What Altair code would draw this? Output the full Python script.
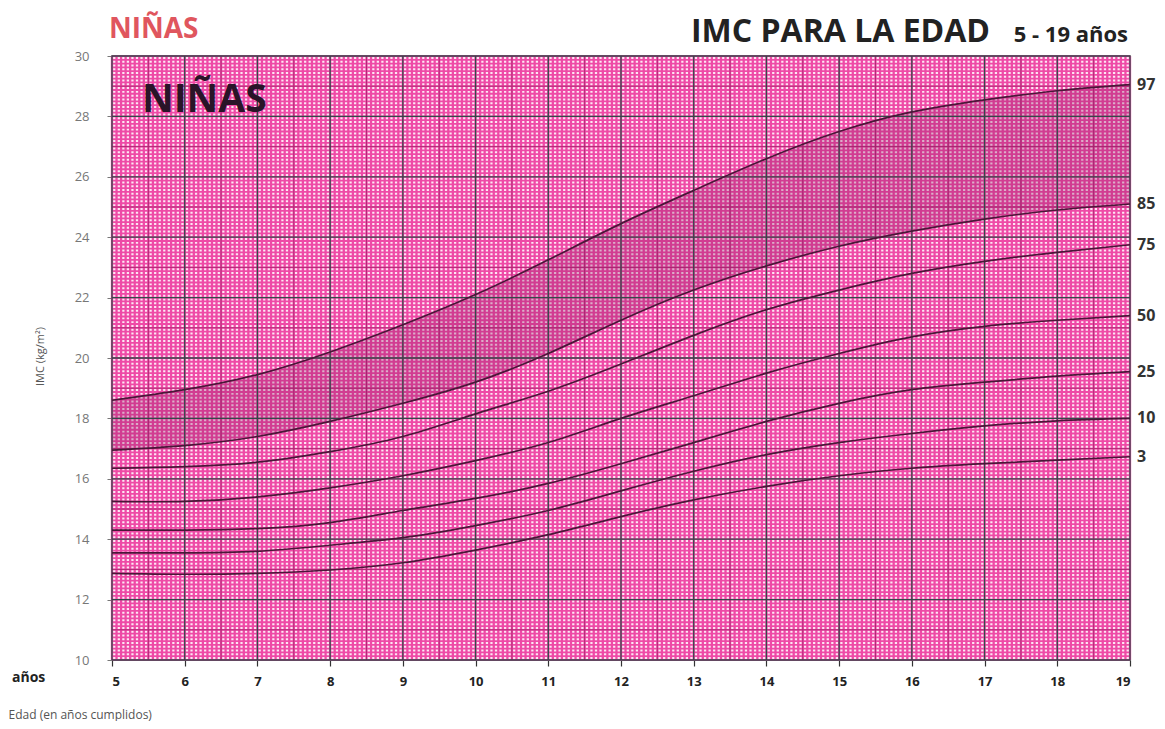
import altair as alt
import pandas as pd
import numpy as np

# ---- data ----
ages = [5, 6, 7, 8, 9, 10, 11, 12, 13, 14, 15, 16, 17, 18, 19]
p97 = [18.6, 18.95, 19.45, 20.2, 21.1, 22.1, 23.25, 24.45, 25.55, 26.6, 27.5, 28.15, 28.55, 28.85, 29.05]
p85 = [16.95, 17.1, 17.4, 17.9, 18.5, 19.2, 20.15, 21.25, 22.25, 23.05, 23.7, 24.2, 24.6, 24.9, 25.1]
p75 = [16.35, 16.4, 16.55, 16.9, 17.4, 18.15, 18.9, 19.8, 20.75, 21.6, 22.25, 22.8, 23.2, 23.5, 23.75]
p50 = [15.25, 15.25, 15.4, 15.7, 16.1, 16.6, 17.2, 18.0, 18.75, 19.5, 20.15, 20.7, 21.05, 21.25, 21.4]
p25 = [14.3, 14.3, 14.35, 14.55, 14.95, 15.35, 15.85, 16.5, 17.2, 17.9, 18.5, 18.95, 19.2, 19.4, 19.55]
p10 = [13.55, 13.55, 13.6, 13.8, 14.05, 14.45, 14.95, 15.6, 16.25, 16.8, 17.2, 17.5, 17.75, 17.92, 18.0]
p3 = [12.87, 12.84, 12.87, 12.98, 13.22, 13.64, 14.15, 14.75, 15.3, 15.75, 16.1, 16.35, 16.5, 16.62, 16.73]

pct_names = ["97", "85", "75", "50", "25", "10", "3"]
pct_series = [p97, p85, p75, p50, p25, p10, p3]

x_ticks = list(range(5, 20))
y_ticks = list(range(10, 31, 2))

# ---- tables ----
long_rows = []
for name, series in zip(pct_names, pct_series):
    for a, v in zip(ages, series):
        long_rows.append({"age": a, "bmi": v, "pct": name})
curves = pd.DataFrame(long_rows)
band = pd.DataFrame({"age": ages, "hi": p97, "lo": p85})
end_labels = pd.DataFrame({"age": [ages[-1]] * len(pct_names),
                           "bmi": [s[-1] for s in pct_series],
                           "pct": pct_names})

fine_x = pd.DataFrame({"age": np.arange(5, 19.0001, 1 / 16)})
fine_y = pd.DataFrame({"bmi": np.arange(10, 30.0001, 0.125)})
mid_x = pd.DataFrame({"age": [a + 0.5 for a in x_ticks[:-1]]})
mid_y = pd.DataFrame({"bmi": [b + 1 for b in y_ticks[:-1]]})
maj_x = pd.DataFrame({"age": x_ticks})
maj_y = pd.DataFrame({"bmi": y_ticks})

FONT = "Open Sans"

xs = alt.Scale(domain=[5, 19], nice=False, zero=False)
ys = alt.Scale(domain=[10, 30], nice=False, zero=False)

xaxis = alt.Axis(values=x_ticks, grid=False, domain=False, title="Edad (en años cumplidos)",
                 labelFont=FONT, labelFontWeight="bold", labelFontSize=13, labelColor="#222",
                 tickColor="#333", tickSize=6, tickWidth=1.2, labelPadding=9,
                 titleFont=FONT, titleFontSize=12, titleFontWeight="normal", titleColor="#555",
                 titleX=-104, titleY=54, titleAlign="left", titleAnchor="start",
                 titleBaseline="middle")
yaxis = alt.Axis(values=y_ticks, grid=False, domain=False, title="IMC (kg/m²)",
                 labelFont=FONT, labelFontSize=13, labelColor="#777",
                 tickColor="#777", tickSize=5, labelPadding=18,
                 titleFont=FONT, titleFontSize=11, titleFontWeight="normal", titleColor="#555",
                 titleX=-72, titleY=300, titleAngle=270, titleAlign="center",
                 titleBaseline="middle")


def X(f):
    return alt.X(f, scale=xs, axis=xaxis)


def Y(f):
    return alt.Y(f, scale=ys, axis=yaxis)


fx = alt.Chart(fine_x).mark_rule(color="#ee4aa6", strokeWidth=2.3).encode(x=X("age:Q"))
fy = alt.Chart(fine_y).mark_rule(color="#ee4aa6", strokeWidth=1.8).encode(y=Y("bmi:Q"))
mx = alt.Chart(mid_x).mark_rule(color="#b02a76", strokeWidth=1).encode(x=X("age:Q"))
my = alt.Chart(mid_y).mark_rule(color="#b02a76", strokeWidth=1).encode(y=Y("bmi:Q"))

band_layer = alt.Chart(band).mark_area(interpolate="natural", color="#8a1a5c", opacity=0.28).encode(
    x=X("age:Q"), y=Y("hi:Q"), y2="lo:Q",
)

gx = alt.Chart(maj_x).mark_rule(color="#34484a", strokeWidth=1.3).encode(x=X("age:Q"))
gy = alt.Chart(maj_y).mark_rule(color="#34484a", strokeWidth=1.3).encode(y=Y("bmi:Q"))

lines = alt.Chart(curves).mark_line(interpolate="natural", color="#4a1638", strokeWidth=1.7).encode(
    x=X("age:Q"), y=Y("bmi:Q"), detail="pct:N",
)

labels = alt.Chart(end_labels).mark_text(align="left", baseline="middle", dx=7, font=FONT,
                                         fontSize=16, fontWeight="bold", color="#333").encode(
    x=X("age:Q"), y=Y("bmi:Q"), text="pct:N",
)

ann = pd.DataFrame({"t": ["x"]})
inner_title = alt.Chart(ann).mark_text(text="NIÑAS", align="left", baseline="alphabetic", font=FONT,
                                       fontSize=39, fontWeight="bold", color="#2a1428").encode(
    x=alt.value(30), y=alt.value(56))
top_left = alt.Chart(ann).mark_text(text="NIÑAS", align="left", baseline="alphabetic", font=FONT,
                                    fontSize=28, fontWeight="bold", color="#e0565e").encode(
    x=alt.value(-3), y=alt.value(-18))
top_right1 = alt.Chart(ann).mark_text(text="IMC PARA LA EDAD", align="right", baseline="alphabetic",
                                      font=FONT, fontSize=32, fontWeight="bold", color="#222").encode(
    x=alt.value(878), y=alt.value(-14))
top_right2 = alt.Chart(ann).mark_text(text="5 - 19 años", align="right", baseline="alphabetic",
                                      font=FONT, fontSize=22, fontWeight="bold", color="#222").encode(
    x=alt.value(1016), y=alt.value(-14))
anos = alt.Chart(ann).mark_text(text="años", align="left", baseline="middle", font=FONT,
                                fontSize=14, fontWeight="bold", color="#222").encode(
    x=alt.value(-100), y=alt.value(622))

chart = alt.layer(
    fx, fy, mx, my, band_layer, gx, gy, lines, labels,
    inner_title, top_left, top_right1, top_right2, anos,
).properties(
    width=1018, height=604,
    autosize=alt.AutoSizeParams(type="none"),
    padding={"left": 104, "top": 48, "right": 27, "bottom": 61},
    background="white",
).configure_view(
    fill="#fde6f3", stroke="#2a2a2a", strokeWidth=1.5,
)

chart.save("out.html", embed_options={"renderer": "svg", "actions": False})
